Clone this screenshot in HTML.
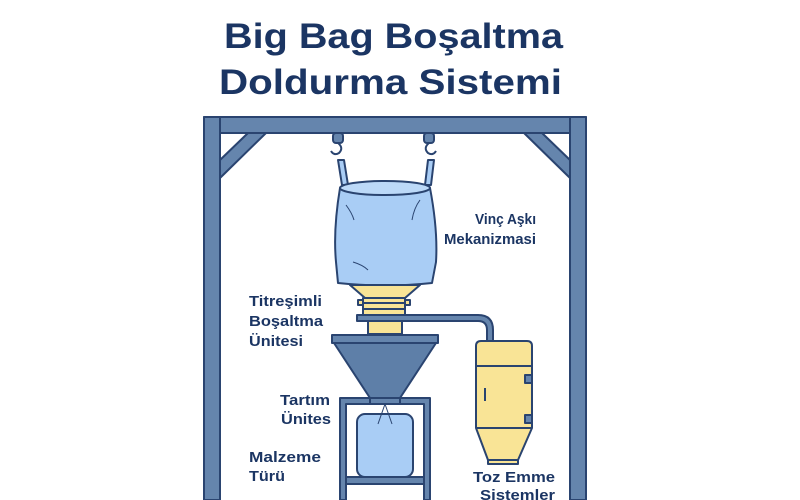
<!DOCTYPE html>
<html><head><meta charset="utf-8"><style>
html,body{margin:0;padding:0;background:#fff}
svg{display:block}
text{font-family:"Liberation Sans","DejaVu Sans",sans-serif;fill:#1b3563}
</style></head><body>
<svg width="800" height="500" viewBox="0 0 800 500" xmlns="http://www.w3.org/2000/svg">
<rect width="800" height="500" fill="#fff"/>
<text x="224" y="48" font-size="35" font-weight="bold" textLength="339" lengthAdjust="spacingAndGlyphs">Big Bag Boşaltma</text>
<text x="219" y="94" font-size="35" font-weight="bold" textLength="343" lengthAdjust="spacingAndGlyphs">Doldurma Sistemi</text>
<g stroke="#2a4470" stroke-width="2" stroke-linejoin="round">
<rect x="204" y="117" width="382" height="16" fill="#6585ad"/>
<rect x="204" y="117" width="16" height="383" fill="#6585ad"/>
<rect x="570" y="117" width="16" height="383" fill="#6585ad"/>
<polygon points="220,160 248,133 266,133 220,178" fill="#6585ad"/>
<polygon points="570,160 542,133 524,133 570,178" fill="#6585ad"/>
<rect x="333" y="133" width="10" height="10" rx="3" fill="#6585ad"/>
<rect x="424" y="133" width="10" height="10" rx="3" fill="#6585ad"/>
<path d="M338,143 q6,5 1,10 q-5,3 -8,-2" fill="none" stroke-width="2"/>
<path d="M429,143 q-6,5 -1,10 q5,3 8,-2" fill="none" stroke-width="2"/>
<polygon points="338,160 344,160 348,185 342,185" fill="#a9cdf5"/>
<polygon points="428,160 434,160 431,185 425,185" fill="#a9cdf5"/>
<path d="M340,188 Q333,230 336,262 L338,283 Q385,288 432,283 L436,262 Q438,230 430,188 Z" fill="#a9cdf5"/>
<ellipse cx="385" cy="188" rx="45" ry="7" fill="#bcd9f8"/>
<path d="M346,205 q6,8 8,15 M420,200 q-6,8 -8,20 M353,262 q10,3 15,8" fill="none" stroke-width="1"/>
<polygon points="350,285 420,285 405,298 365,298" fill="#f9e496"/>
<rect x="358" y="300" width="52" height="5" fill="#f9e496"/>
<rect x="363" y="298" width="42" height="17" fill="#f9e496"/>
<line x1="363" y1="303" x2="405" y2="303"/><line x1="363" y1="309" x2="405" y2="309"/>
<rect x="368" y="321" width="34" height="13" fill="#f9e496"/>
<path d="M357,315 L478,315 Q493,315 493,330 L493,342 L487,342 L487,330 Q487,321 478,321 L357,321 Z" fill="#6585ad"/>
<rect x="332" y="335" width="106" height="8" fill="#6585ad"/>
<polygon points="334,343 436,343 400,398 370,398" fill="#5e7fa8"/>
<path d="M340,398 H430 V500 H424 V404 H346 V500 H340 Z" fill="#6585ad"/>
<rect x="370" y="398" width="30" height="6" fill="#6585ad"/>
<rect x="346" y="477" width="78" height="7" fill="#6585ad"/>
<rect x="357" y="414" width="56" height="63" rx="8" fill="#a9cdf5"/>
<path d="M378,424 L385,404 L392,424" fill="none" stroke-width="1"/>
<path d="M476,346 Q476,341 481,341 H527 Q532,341 532,346 V428 L518,460 H488 L476,428 Z" fill="#f9e496"/>
<line x1="476" y1="366" x2="532" y2="366"/>
<line x1="476" y1="428" x2="532" y2="428"/>
<rect x="488" y="460" width="30" height="4" fill="#f9e496"/>
<rect x="525" y="375" width="7" height="8" fill="#6585ad"/>
<rect x="525" y="415" width="7" height="8" fill="#6585ad"/>
<line x1="485" y1="388" x2="485" y2="401" stroke-width="2"/>
</g>
<g font-size="15" font-weight="bold">
<text x="475" y="224" textLength="61" lengthAdjust="spacingAndGlyphs">Vinç Aşkı</text>
<text x="444" y="244" textLength="92" lengthAdjust="spacingAndGlyphs">Mekanizmasi</text>
<text x="249" y="306" textLength="73" lengthAdjust="spacingAndGlyphs">Titreşimli</text>
<text x="249" y="326" textLength="74" lengthAdjust="spacingAndGlyphs">Boşaltma</text>
<text x="249" y="346" textLength="54" lengthAdjust="spacingAndGlyphs">Ünitesi</text>
<text x="280" y="405" textLength="50" lengthAdjust="spacingAndGlyphs">Tartım</text>
<text x="281" y="424" textLength="50" lengthAdjust="spacingAndGlyphs">Ünites</text>
<text x="249" y="462" textLength="72" lengthAdjust="spacingAndGlyphs">Malzeme</text>
<text x="249" y="481" textLength="36" lengthAdjust="spacingAndGlyphs">Türü</text>
<text x="473" y="482" textLength="82" lengthAdjust="spacingAndGlyphs">Toz Emme</text>
<text x="480" y="500" textLength="75" lengthAdjust="spacingAndGlyphs">Sistemler</text>
</g>
</svg>
</body></html>
